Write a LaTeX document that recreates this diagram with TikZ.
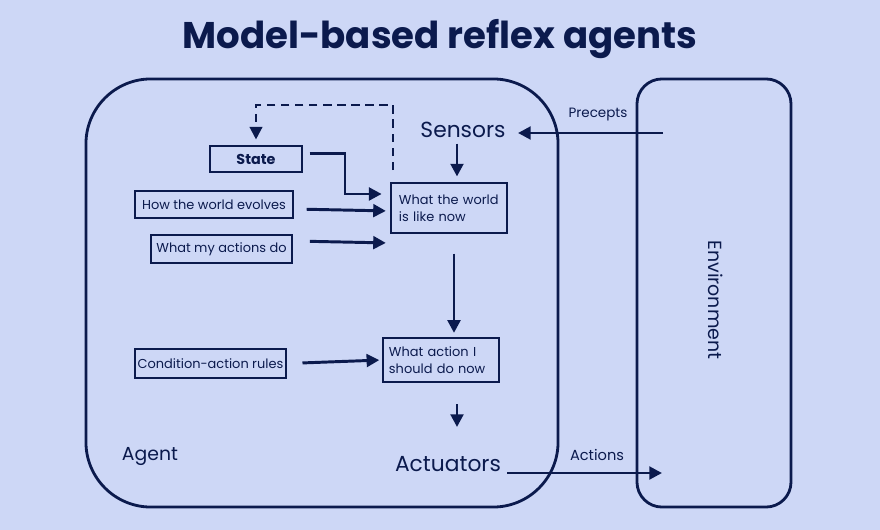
\documentclass[tikz,border=0pt]{standalone}
\usepackage{fontspec}
\setmainfont{Poppins}
\usetikzlibrary{arrows.meta}
\definecolor{navy}{HTML}{0B1A4D}
\definecolor{paleblue}{HTML}{CDD7F6}

\begin{document}
\begin{tikzpicture}[
  x=0.025cm, y=-0.025cm,
  >={Triangle[length=9pt,width=9pt]},
  box/.style={draw=navy, line width=1.3pt, text=navy, inner sep=0pt,
              font=\fontsize{9.2}{12}\selectfont},
  frame/.style={draw=navy, line width=2pt},
  lbl/.style={text=navy, inner sep=0pt},
  flow/.style={->, draw=navy, line width=2.1pt},
]
\fill[paleblue] (0,0) rectangle (880,530);
\useasboundingbox (0,0) rectangle (880,530);

\node[lbl, font=\fontsize{26.4}{30}\bfseries\selectfont] (title) at (440,39) {Model-based reflex agents};

\node[frame, rounded corners=1.625cm, minimum width=11.8cm, minimum height=10.7cm] (agent) at (322,293) {};
\node[frame, rounded corners=0.625cm, minimum width=3.85cm, minimum height=10.7cm] (env) at (714,293) {};

\node[lbl, font=\fontsize{15.5}{18}\selectfont] (sensors) at (463,130) {Sensors};
\node[lbl, font=\fontsize{15.5}{18}\selectfont] (actuators) at (448,464) {Actuators};
\node[lbl, font=\fontsize{13.4}{16}\selectfont] (agentlbl) at (150,457) {Agent};
\node[lbl, font=\fontsize{9.6}{12}\selectfont] (precepts) at (598,115) {Precepts};
\node[lbl, font=\fontsize{10.4}{12}\selectfont] (actions) at (597,455) {Actions};
\node[lbl, font=\fontsize{13.5}{16}\selectfont, rotate=-90] (envlbl) at (716,300) {Environment};

\node[box, minimum width=2.28cm, minimum height=0.65cm, font=\fontsize{10.2}{12}\bfseries\selectfont] (state) at (256,159) {State};
\node[box, minimum width=3.95cm, minimum height=0.68cm] (evolves) at (214,204.5) {How the world evolves};
\node[box, minimum width=3.53cm, minimum height=0.7cm] (mydo) at (221.5,249) {What my actions do};
\node[box, minimum width=2.9cm, minimum height=1.25cm, align=left, text width=2.5cm] (world) at (449,208) {What the world\\is like now};
\node[box, minimum width=2.9cm, minimum height=1.1cm, align=left, text width=2.6cm] (todo) at (441,360) {What action I\\should do now};
\node[box, minimum width=3.78cm, minimum height=0.73cm] (rules) at (210.5,363.5) {Condition-action rules};

\coordinate (pin) at (663,133);
\coordinate (pout) at (518,133);
\coordinate (ain) at (507,473);
\coordinate (aout) at (662,473);
\coordinate (dash1) at (393,105);
\coordinate (dash2) at (256,105);
\coordinate (bend) at (345,154);

\draw[flow] (pin) -- (pout);
\draw[flow] (ain) -- (aout);
\draw[flow, shorten <=4pt, shorten >=4pt] (sensors.south -| 457,0) -- (world.north -| 457,0);
\draw[->, draw=navy, line width=1.6pt, dashed, dash pattern=on 6pt off 4pt]
  (world.north -| dash1) ++(0,-12) -- (dash1) -- (dash2) -- ([yshift=4pt]state.north);
\draw[flow] ([xshift=5pt,yshift=4pt]state.east) -| (bend |- 0,194) -- ([xshift=-6pt]world.west |- 0,194);
\draw[flow, shorten <=9pt, shorten >=3pt] (evolves.east |- 0,209) -- (world.west |- 0,211);
\draw[flow, shorten <=12pt, shorten >=3pt] (mydo.east |- 0,241) -- (world.west |- 0,243);
\draw[flow, shorten <=14pt, shorten >=3pt] (world.south -| 454,0) -- (todo.north -| 454,0);
\draw[flow, shorten <=11pt, shorten >=2pt] (rules.east) -- (todo.west);
\draw[flow, shorten <=15pt] (todo.south -| 457,0) -- (457,427);
\end{tikzpicture}
\end{document}
